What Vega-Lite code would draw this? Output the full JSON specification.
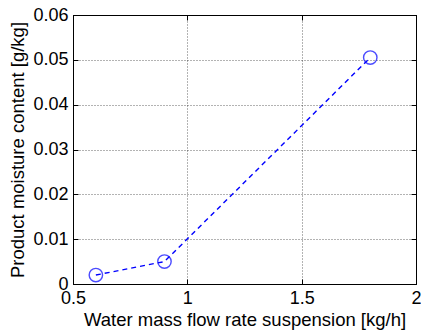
{
  "$schema": "https://vega.github.io/schema/vega-lite/v6.json",
  "autosize": "none",
  "width": 343,
  "height": 269,
  "padding": {"left": 73, "top": 15, "right": 5, "bottom": 47},
  "background": "white",
  "config": {
    "view": {"stroke": "black", "strokeWidth": 1},
    "axis": {
      "labelFont": "Liberation Sans",
      "titleFont": "Liberation Sans",
      "labelFontSize": 18,
      "titleFontSize": 18.5,
      "titleFontWeight": "normal",
      "labelColor": "black",
      "titleColor": "black",
      "domainColor": "black",
      "tickColor": "black",
      "tickSize": -5,
      "labelOverlap": false,
      "gridColor": "#000000",
      "gridDash": [1, 2],
      "gridOpacity": 0.6
    }
  },
  "data": {
    "values": [
      {"flow": 0.6, "moisture": 0.002},
      {"flow": 0.9, "moisture": 0.005},
      {"flow": 1.8, "moisture": 0.0505}
    ]
  },
  "layer": [
    {
      "mark": {"type": "line", "color": "#0000ff", "strokeWidth": 1.4, "strokeDash": [5, 4]},
      "encoding": {
        "x": {
          "field": "flow", "type": "quantitative",
          "scale": {"domain": [0.5, 2], "nice": false, "zero": false},
          "axis": {"values": [0.5, 1, 1.5, 2], "format": "~g", "title": "Water mass flow rate suspension [kg/h]", "labelPadding": 10, "titlePadding": 3, "grid": true, "labelFlush": false}
        },
        "y": {
          "field": "moisture", "type": "quantitative",
          "scale": {"domain": [0, 0.06], "nice": false},
          "axis": {"values": [0, 0.01, 0.02, 0.03, 0.04, 0.05, 0.06], "format": "~g", "title": "Product moisture content [g/kg]", "labelPadding": 10, "titlePadding": 5, "grid": true, "labelFlush": false}
        }
      }
    },
    {
      "mark": {"type": "point", "shape": "circle", "color": "#0000ff", "filled": false, "size": 180, "strokeWidth": 1.4},
      "encoding": {
        "x": {"field": "flow", "type": "quantitative", "axis": {"orient": "top", "labels": false, "title": null, "values": [0.5, 1, 1.5, 2], "grid": false}},
        "y": {"field": "moisture", "type": "quantitative", "axis": {"orient": "right", "labels": false, "title": null, "values": [0, 0.01, 0.02, 0.03, 0.04, 0.05, 0.06], "grid": false}}
      }
    }
  ],
  "resolve": {"axis": {"x": "independent", "y": "independent"}}
}
